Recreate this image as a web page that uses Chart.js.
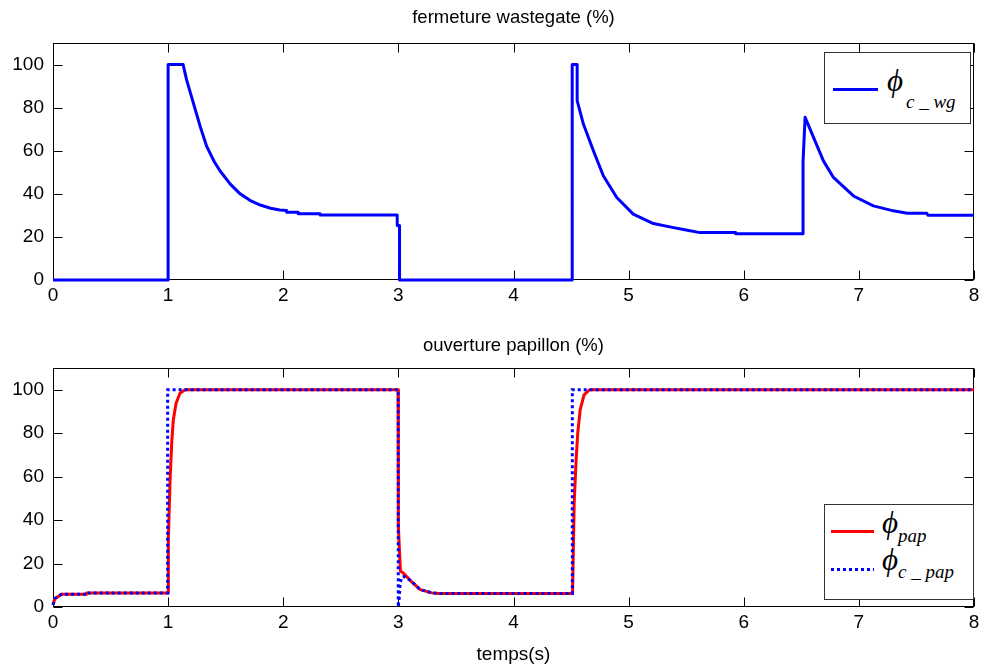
<!DOCTYPE html>
<html><head><meta charset="utf-8">
<script src="https://cdn.jsdelivr.net/npm/chart.js@4.4.1/dist/chart.umd.min.js"></script>
<style>
html,body{margin:0;padding:0;background:#fff;width:986px;height:668px;overflow:hidden;font-family:"Liberation Sans",Arial,sans-serif}
.wrap{position:absolute;left:0;width:986px}
.ttl{position:absolute;left:53px;width:921px;text-align:center;font-size:18.5px;line-height:22px;height:22px;color:#000;white-space:nowrap}
.leg{position:absolute;background:#fff;border:1px solid #333;box-sizing:border-box}
.abs{position:absolute;white-space:nowrap;color:#000}
.phi{font-family:"Liberation Serif","Times New Roman",serif;font-style:italic;font-size:31px;line-height:31px}
.sub{font-family:"Liberation Serif","Times New Roman",serif;font-style:italic;font-size:19px;line-height:19px}
.ls{position:absolute;height:3px}
</style></head>
<body>
<div class="wrap" style="top:0;height:310px"><canvas id="c1" width="986" height="310"></canvas></div>
<div class="wrap" style="top:320px;height:348px"><canvas id="c2" width="986" height="348"></canvas></div>
<div class="ttl" style="top:6px">fermeture wastegate (%)</div>
<div class="ttl" style="top:334px">ouverture papillon (%)</div>

<div class="leg" style="left:824px;top:52px;width:147px;height:72px"></div>
<div class="ls" id="lsWg" style="left:833px;top:88px;width:45px"></div>
<span class="abs phi" style="left:887px;top:65px">&#981;</span>
<span class="abs sub" style="left:906px;top:92px">c _ wg</span>

<div class="leg" style="left:824px;top:504px;width:150px;height:96px"></div>
<div class="ls" id="lsPap" style="left:831px;top:530px;width:43px"></div>
<div class="ls" id="lsCpap" style="left:831px;top:568px;width:43px"></div>
<span class="abs phi" style="left:882px;top:507px">&#981;</span>
<span class="abs sub" style="left:898px;top:526px">pap</span>
<span class="abs phi" style="left:882px;top:544px">&#981;</span>
<span class="abs sub" style="left:898px;top:562px">c _ pap</span>

<script>
// ---- data ----
const xTicks = [0, 1, 2, 3, 4, 5, 6, 7, 8];
const yTicks = [0, 20, 40, 60, 80, 100];

const tWg = [0, 1.0, 1.0, 1.13, 1.16, 1.22, 1.28, 1.335, 1.40, 1.45, 1.54, 1.625, 1.71, 1.80, 1.89, 1.97, 2.03, 2.03, 2.13, 2.13, 2.32, 2.32, 2.99, 2.99, 3.01, 3.01, 4.51, 4.51, 4.553, 4.553, 4.607, 4.694, 4.78, 4.897, 5.04, 5.215, 5.39, 5.50, 5.62, 5.93, 5.93, 6.515, 6.515, 6.533, 6.606, 6.692, 6.779, 6.953, 7.126, 7.30, 7.42, 7.59, 7.60, 8.0];
const wg  = [0, 0, 100, 100, 93, 82, 71, 62, 55, 50.7, 44.5, 40, 37, 34.8, 33.3, 32.5, 32.3, 31.5, 31.5, 30.7, 30.7, 30.2, 30.2, 25.3, 25.3, 0, 0, 100, 100, 83.3, 72.4, 60, 48.4, 38.3, 30.6, 26.2, 24.3, 23.2, 22, 22, 21.5, 21.5, 55, 75.5, 66.2, 55.3, 47.6, 39, 34.4, 32.1, 31, 31, 30.1, 30.1];

const tPap = [0, 0.017, 0.075, 0.29, 0.29, 1.0, 1.002, 1.017, 1.031, 1.045, 1.069, 1.103, 1.147, 2.998, 3.0, 3.018, 3.04, 3.102, 3.19, 3.29, 3.35, 4.513, 4.527, 4.544, 4.558, 4.579, 4.613, 4.66, 8.0];
const pap  = [1, 3.9, 5.9, 5.9, 6.5, 6.5, 30.8, 58.4, 75.4, 86.1, 93.8, 98.4, 100, 100, 36.9, 16.5, 15.8, 12.3, 8, 6.5, 6.2, 6.2, 47.7, 67.7, 80, 90.7, 97.6, 100, 100];

const tCpap = [0, 0.017, 0.075, 0.29, 0.29, 0.996, 0.996, 2.998, 2.999, 3.008, 3.015, 3.03, 3.05, 3.102, 3.19, 3.29, 3.35, 4.511, 4.511, 8.0];
const cpap  = [1, 3.9, 5.9, 5.9, 6.5, 6.5, 100, 100, 0, 4.6, 10.8, 13.8, 14, 12.3, 8, 6.5, 6.2, 6.2, 100, 100];

const colWg = '#0000ff', colPap = '#ff0000', colCpap = '#0000ff';

// ---- legend samples ----
document.getElementById('lsWg').style.background = colWg;
document.getElementById('lsPap').style.background = colPap;
document.getElementById('lsCpap').style.background =
  'repeating-linear-gradient(to right,' + colCpap + ' 0 3px, transparent 3px 6px)';

const pts = (t, v) => t.map((x, i) => ({x: x, y: v[i]}));
const FONT = {family: '"Liberation Sans", Arial, sans-serif', size: 19};

const boxPlugin = {
  id: 'box',
  beforeDatasetsDraw(chart) {
    const ctx = chart.ctx, a = chart.chartArea, x = chart.scales.x, y = chart.scales.y;
    const L = Math.round(a.left) + 0.5, R = Math.round(a.right) - 0.5;
    const T = Math.round(a.top) + 0.5, B = Math.round(a.bottom) - 0.5;
    ctx.save();
    ctx.strokeStyle = '#000';
    ctx.lineWidth = 1;
    ctx.strokeRect(L, T, R - L, B - T);
    ctx.beginPath();
    const len = 9;
    xTicks.forEach(v => {
      const p = Math.round(x.getPixelForValue(v)) + 0.5;
      ctx.moveTo(p, B); ctx.lineTo(p, B - len);
      ctx.moveTo(p, T); ctx.lineTo(p, T + len);
    });
    yTicks.forEach(v => {
      const p = Math.round(y.getPixelForValue(v)) + 0.5;
      ctx.moveTo(L, p); ctx.lineTo(L + len, p);
      ctx.moveTo(R, p); ctx.lineTo(R - len, p);
    });
    ctx.stroke();
    ctx.restore();
  }
};

function makeChart(id, datasets, padTop, xHeight, xTitle) {
  return new Chart(document.getElementById(id), {
    type: 'line',
    data: {datasets: datasets},
    options: {
      responsive: false, animation: false, maintainAspectRatio: false,
      layout: {padding: {left: 0, right: 12, top: padTop, bottom: 0}},
      plugins: {legend: {display: false}, tooltip: {enabled: false}, title: {display: false}},
      elements: {point: {radius: 0}, line: {tension: 0}},
      scales: {
        x: {
          type: 'linear', min: 0, max: 8,
          afterBuildTicks: s => { s.ticks = xTicks.map(v => ({value: v})); },
          afterFit: s => { s.height = xHeight; },
          grid: {display: false, drawTicks: false},
          border: {display: false},
          ticks: {padding: 4, color: '#000', font: FONT, maxRotation: 0, autoSkip: false},
          title: xTitle ? {display: true, text: xTitle, color: '#000', font: FONT, padding: {top: 0, bottom: 2}} : {display: false}
        },
        y: {
          min: 0, max: 110,
          afterBuildTicks: s => { s.ticks = yTicks.map(v => ({value: v})); },
          afterFit: s => { s.width = 53; },
          grid: {display: false, drawTicks: false},
          border: {display: false},
          ticks: {padding: 9, color: '#000', font: FONT}
        }
      }
    },
    plugins: [boxPlugin]
  });
}

makeChart('c1', [
  {data: pts(tWg, wg), borderColor: colWg, borderWidth: 3, fill: false, clip: 4, borderJoinStyle: 'round'}
], 43, 30, null);

makeChart('c2', [
  {data: pts(tCpap, cpap), borderColor: colCpap, borderWidth: 3, borderDash: [3, 3], fill: false, clip: 4},
  {data: pts(tPap, pap), borderColor: colPap, borderWidth: 3, fill: false, clip: 4, borderJoinStyle: 'round'}
], 48, 61, 'temps(s)');
</script>
</body></html>
